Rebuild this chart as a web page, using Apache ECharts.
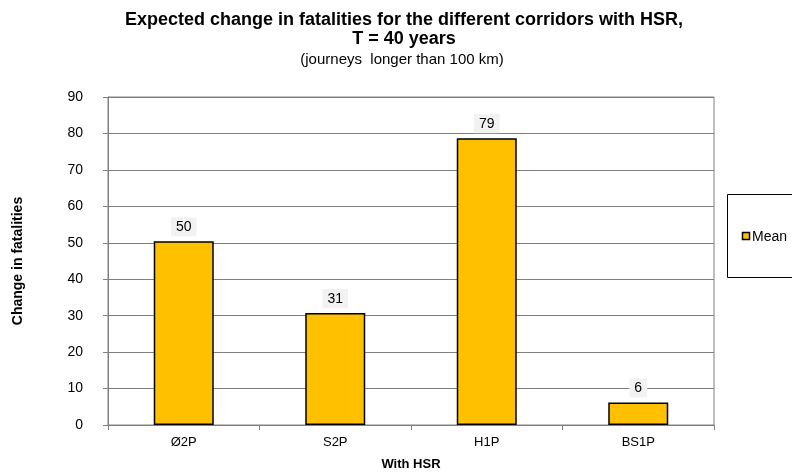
<!DOCTYPE html>
<html><head><meta charset="utf-8">
<script src="https://cdn.jsdelivr.net/npm/echarts@6/dist/echarts.min.js"></script>
<style>html,body{margin:0;padding:0;background:#fff}#c{width:792px;height:476px}</style>
</head><body><div id="c"></div>
<script>
const categories = ['Ø2P', 'S2P', 'H1P', 'BS1P'];
const meanValues = [50.4, 30.7, 78.7, 6.2];
const yTicks = { min: 0, max: 90, interval: 10 };

const chart = echarts.init(document.getElementById('c'), null, { renderer: 'canvas' });
const F = 'Liberation Sans, Arial, sans-serif';
chart.setOption({
  animation: false,
  backgroundColor: '#fff',
  title: [
    { text: 'Expected change in fatalities for the different corridors with HSR,\nT = 40 years', left: 399, top: 6, textAlign: 'center',
      textStyle: { fontFamily: F, fontSize: 18, fontWeight: 'bold', color: '#000', lineHeight: 19 } },
    { text: '(journeys  longer than 100 km)', left: 397, top: 47, textAlign: 'center',
      textStyle: { fontFamily: F, fontSize: 15, fontWeight: 'normal', color: '#000' } }
  ],
  grid: { left: 108, right: 78, top: 97, bottom: 44, containLabel: false, show: true, borderColor: '#808080', borderWidth: 1 },
  legend: { show: false },
  graphic: [
    { type: 'rect', shape: { x: 727.5, y: 194.5, width: 70, height: 83 }, style: { fill: '#fff', stroke: '#000', lineWidth: 1 } },
    { type: 'rect', shape: { x: 742.5, y: 232.5, width: 7, height: 7 }, style: { fill: '#FFC000', stroke: '#000', lineWidth: 1.5 } },
    { type: 'text', x: 752, y: 237, style: { text: 'Mean', fontFamily: F, fontSize: 14, fill: '#000', verticalAlign: 'middle' } }
  ],
  xAxis: {
    type: 'category', data: categories,
    name: 'With HSR', nameLocation: 'middle', nameGap: 33,
    nameTextStyle: { fontFamily: F, fontSize: 13, fontWeight: 'bold', color: '#000' },
    axisLine: { lineStyle: { color: '#808080', width: 1 } },
    axisTick: { show: true, length: 5, lineStyle: { color: '#808080' } },
    axisLabel: { fontFamily: F, fontSize: 13, color: '#000', margin: 11 },
    splitLine: { show: false }
  },
  yAxis: {
    type: 'value', min: yTicks.min, max: yTicks.max, interval: yTicks.interval,
    name: 'Change in fatalities', nameLocation: 'middle', nameGap: 83, nameRotate: 90,
    nameTextStyle: { fontFamily: F, fontSize: 14, fontWeight: 'bold', color: '#000' },
    axisLine: { show: true, lineStyle: { color: '#808080', width: 1 } },
    axisTick: { show: true, length: 5, inside: false, lineStyle: { color: '#808080' } },
    axisLabel: { fontFamily: F, fontSize: 14, color: '#000', margin: 25 },
    splitLine: { show: true, lineStyle: { color: '#808080', width: 1 } }
  },
  series: [{
    name: 'Mean', type: 'bar', data: meanValues, barWidth: 60,
    itemStyle: { color: '#FFC000', borderColor: '#000', borderWidth: 1.5 },
    label: {
      show: true, position: 'top', distance: 5,
      formatter: p => Math.round(p.value),
      fontFamily: F, fontSize: 14, color: '#000',
      backgroundColor: '#F2F2F2', padding: [3, 5, 2, 5]
    }
  }]
});
</script></body></html>
